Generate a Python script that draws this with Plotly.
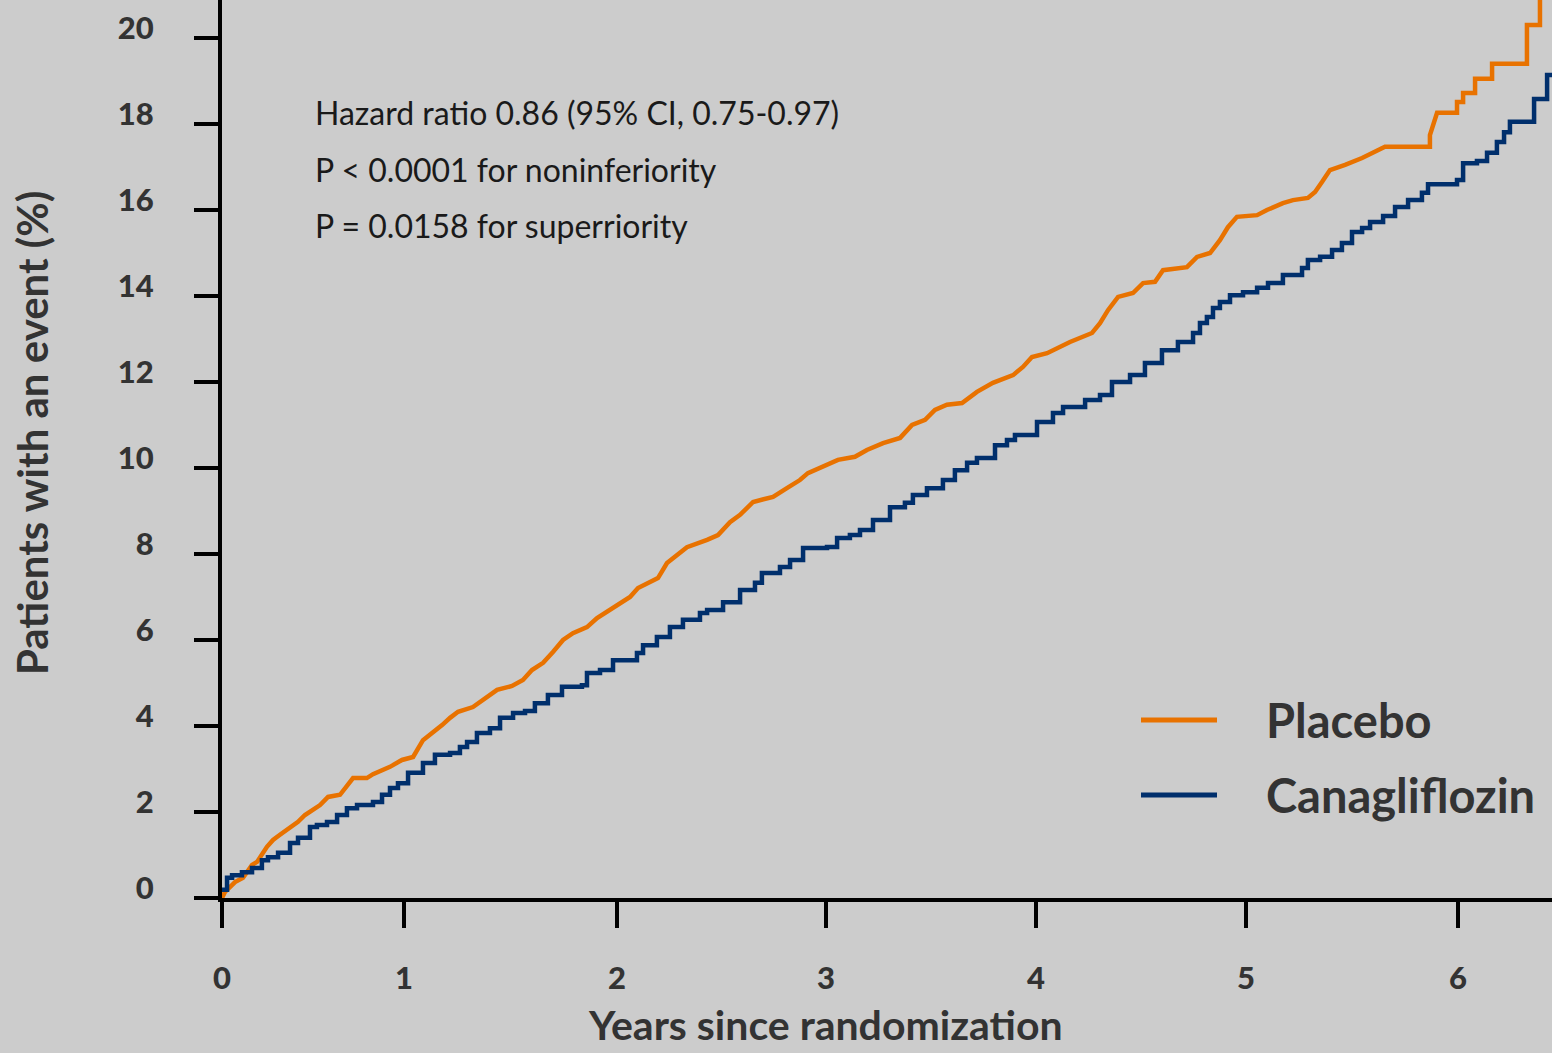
import plotly.graph_objects as go

# ---- data (years since randomization, % patients with an event) ----
placebo_years = [0.000, 0.014, 0.062, 0.100, 0.143, 0.167, 0.214, 0.243, 0.276, 0.333,
                 0.362, 0.395, 0.443, 0.467, 0.505, 0.562, 0.624, 0.690, 0.719, 0.800,
                 0.857, 0.910, 0.957, 1.005, 1.048, 1.086, 1.124, 1.195, 1.262, 1.310,
                 1.381, 1.433, 1.476, 1.529, 1.576, 1.624, 1.671, 1.738, 1.786, 1.833,
                 1.895, 1.943, 1.981, 2.014, 2.076, 2.119, 2.167, 2.214, 2.310, 2.362,
                 2.419, 2.467, 2.529, 2.624, 2.690, 2.752, 2.790, 2.857, 2.933, 3.014,
                 3.071, 3.148, 3.229, 3.286, 3.348, 3.395, 3.452, 3.524, 3.595, 3.671,
                 3.767, 3.814, 3.857, 3.929, 3.976, 4.038, 4.143, 4.181, 4.219, 4.267,
                 4.338, 4.386, 4.443, 4.481, 4.595, 4.643, 4.705, 4.752, 4.790, 4.833,
                 4.929, 4.976, 5.052, 5.100, 5.171, 5.205, 5.238, 5.276, 5.348, 5.429,
                 5.538, 5.752, 5.752, 5.786, 5.881, 5.881, 5.910, 5.910, 5.967, 5.967,
                 6.048, 6.048, 6.214, 6.214, 6.276, 6.276]
placebo_pct = [0.00, 0.14, 0.37, 0.47, 0.77, 0.84, 1.19, 1.35, 1.47, 1.65,
               1.77, 1.93, 2.09, 2.16, 2.35, 2.40, 2.79, 2.79, 2.88, 3.05,
               3.21, 3.28, 3.67, 3.84, 4.02, 4.19, 4.33, 4.44, 4.67, 4.84,
               4.93, 5.07, 5.30, 5.47, 5.72, 6.00, 6.16, 6.30, 6.51, 6.65,
               6.86, 7.00, 7.21, 7.28, 7.44, 7.79, 7.98, 8.16, 8.33, 8.44,
               8.74, 8.91, 9.21, 9.33, 9.53, 9.72, 9.88, 10.02, 10.19, 10.26,
               10.42, 10.58, 10.70, 11.00, 11.12, 11.35, 11.47, 11.51, 11.77, 11.98,
               12.16, 12.35, 12.58, 12.67, 12.79, 12.93, 13.14, 13.37, 13.67, 13.98,
               14.07, 14.30, 14.33, 14.60, 14.67, 14.91, 15.00, 15.30, 15.60, 15.84,
               15.88, 16.00, 16.16, 16.23, 16.28, 16.42, 16.65, 16.93, 17.05, 17.21,
               17.47, 17.47, 17.74, 18.26, 18.26, 18.51, 18.51, 18.72, 18.72, 19.05,
               19.05, 19.40, 19.40, 20.30, 20.30, 21.50]

cana_years = [0.000, 0.024, 0.048, 0.095, 0.143, 0.190, 0.219, 0.267, 0.324, 0.362,
              0.419, 0.452, 0.500, 0.548, 0.595, 0.643, 0.719, 0.762, 0.800, 0.838,
              0.886, 0.957, 1.014, 1.086, 1.133, 1.167, 1.214, 1.276, 1.324, 1.386,
              1.443, 1.490, 1.552, 1.619, 1.714, 1.738, 1.800, 1.862, 1.976, 2.005,
              2.071, 2.133, 2.195, 2.276, 2.310, 2.386, 2.467, 2.538, 2.571, 2.657,
              2.705, 2.767, 2.881, 2.929, 2.990, 3.038, 3.100, 3.181, 3.252, 3.290,
              3.357, 3.433, 3.490, 3.548, 3.595, 3.681, 3.738, 3.776, 3.881, 3.957,
              4.005, 4.110, 4.181, 4.238, 4.324, 4.395, 4.476, 4.552, 4.624, 4.657,
              4.690, 4.719, 4.752, 4.800, 4.862, 4.929, 4.981, 5.052, 5.143, 5.171,
              5.229, 5.286, 5.333, 5.381, 5.429, 5.467, 5.529, 5.586, 5.648, 5.714,
              5.743, 5.881, 5.910, 5.976, 6.024, 6.071, 6.105, 6.133, 6.248, 6.310,
              6.400]
cana_pct = [0.19, 0.47, 0.53, 0.60, 0.70, 0.88, 0.95, 1.05, 1.28, 1.40,
            1.65, 1.70, 1.77, 1.93, 2.09, 2.16, 2.23, 2.40, 2.56, 2.67,
            2.91, 3.14, 3.33, 3.37, 3.51, 3.63, 3.84, 3.95, 4.19, 4.30,
            4.35, 4.53, 4.72, 4.91, 4.95, 5.23, 5.30, 5.53, 5.70, 5.88,
            6.07, 6.30, 6.47, 6.63, 6.70, 6.88, 7.16, 7.33, 7.56, 7.70,
            7.86, 8.14, 8.16, 8.37, 8.44, 8.56, 8.79, 9.09, 9.19, 9.37,
            9.53, 9.72, 9.95, 10.12, 10.23, 10.53, 10.65, 10.77, 11.07, 11.28,
            11.42, 11.58, 11.70, 12.00, 12.16, 12.44, 12.74, 12.93, 13.14, 13.37,
            13.51, 13.72, 13.86, 14.02, 14.09, 14.19, 14.30, 14.49, 14.65, 14.84,
            14.91, 15.07, 15.23, 15.49, 15.58, 15.72, 15.86, 16.07, 16.23, 16.40,
            16.60, 16.70, 17.09, 17.14, 17.33, 17.58, 17.81, 18.05, 18.58, 19.14,
            19.14]

# tick marks sit where the source chart draws them
x_tick_vals = [0, 0.867, 1.881, 2.876, 3.876, 4.876, 5.886]
x_tick_text = ["0", "1", "2", "3", "4", "5", "6"]
y_tick_vals = [0, 2, 4, 6, 8, 10, 12, 14, 16, 18, 20]

stats_lines = ["Hazard ratio 0.86 (95% CI, 0.75-0.97)",
               "P < 0.0001 for noninferiority",
               "P = 0.0158 for superriority"]
series_names = ["Placebo", "Canagliflozin"]
x_title = "Years since randomization"
y_title = "Patients with an event (%)"

ORANGE = "#E87200"
NAVY = "#002F6C"
BG = "#CCCCCC"
TXT = "#333333"
FONT = "Lato"

W, H = 1552, 1053
L, B = 222, 155
PW, PH = W - L, H - B

def px_x(p):
    return (p - L) / PW

def px_y(p):
    return 1 - p / PH

fig = go.Figure()
fig.add_trace(go.Scatter(x=placebo_years, y=placebo_pct, mode="lines",
                         name=series_names[0],
                         line=dict(color=ORANGE, width=4.5, shape="linear"),
                         showlegend=False))
fig.add_trace(go.Scatter(x=cana_years, y=cana_pct, mode="lines",
                         name=series_names[1],
                         line=dict(color=NAVY, width=4.5, shape="hv"),
                         showlegend=False))

# statistics text
for i, t in enumerate(stats_lines):
    fig.add_annotation(text=t, xref="paper", yref="paper",
                       x=px_x(313), y=px_y(113 + 56 * i),
                       xanchor="left", yanchor="middle", showarrow=False,
                       font=dict(family=FONT, size=32, color="#1a1a1a"))

# legend drawn manually
for i, (nm, col) in enumerate(zip(series_names, [ORANGE, NAVY])):
    yy = px_y(720 + 75 * i)
    fig.add_shape(type="line", xref="paper", yref="paper",
                  x0=px_x(1141), x1=px_x(1217), y0=yy, y1=yy,
                  line=dict(color=col, width=5))
    fig.add_annotation(text="<b>" + nm + "</b>", xref="paper", yref="paper",
                       x=px_x(1264), y=yy, xanchor="left", yanchor="middle",
                       showarrow=False, font=dict(family=FONT, size=47, color=TXT))

# axis titles
fig.add_annotation(text="<b>" + x_title + "</b>", xref="paper", yref="paper",
                   x=px_x(825), y=px_y(1024), xanchor="center", yanchor="middle",
                   showarrow=False, font=dict(family=FONT, size=41, color=TXT))
fig.add_annotation(text="<b>" + y_title + "</b>", xref="paper", yref="paper",
                   x=px_x(32), y=px_y(433), xanchor="center", yanchor="middle",
                   textangle=-90, showarrow=False,
                   font=dict(family=FONT, size=42, color=TXT))

fig.update_layout(
    width=W, height=H,
    margin=dict(l=L, r=0, t=0, b=B),
    paper_bgcolor=BG, plot_bgcolor=BG,
    font=dict(family=FONT, color=TXT),
    xaxis=dict(range=[0, PW / 210], tickvals=x_tick_vals, ticktext=x_tick_text,
               showgrid=False, zeroline=False, showline=True, linecolor="black",
               linewidth=4, ticks="outside", ticklen=26, tickwidth=4, tickcolor="black",
               ticklabelstandoff=24,
               tickfont=dict(family=FONT, size=31, color=TXT, weight=900),
               automargin=False),
    yaxis=dict(range=[0, PH / 43], tickvals=y_tick_vals,
               showgrid=False, zeroline=False, showline=True, linecolor="black",
               linewidth=4, ticks="outside", ticklen=24, tickwidth=4, tickcolor="black",
               ticklabelstandoff=34, ticklabelshift=-10,
               tickfont=dict(family=FONT, size=31, color=TXT, weight=900),
               automargin=False),
)

fig.write_html("out.html",
               config={"displayModeBar": False},
               post_script="document.body.style.margin='0';"
                           "document.body.style.background='#CCCCCC';"
                           "document.body.style.overflow='hidden';")
